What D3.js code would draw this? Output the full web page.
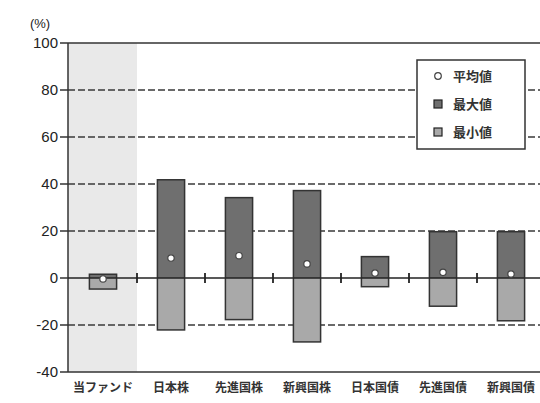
<!DOCTYPE html>
<html>
<head>
<meta charset="utf-8">
<script src="https://cdn.jsdelivr.net/npm/d3@7"></script>
<style>
body{margin:0;background:#fff;}
text{font-family:"Liberation Sans","Noto Sans CJK JP",sans-serif;}
</style>
</head>
<body>
<div id="chart"></div>
<script>
var categories = ["当ファンド","日本株","先進国株","新興国株","日本国債","先進国債","新興国債"];
var avgValues = [-0.4, 8.5, 9.5, 6.0, 2.1, 2.4, 1.7];
var maxValues = [1.6, 41.8, 34.2, 37.2, 9.1, 19.7, 19.7];
var minValues = [-4.7, -22.1, -17.7, -27.2, -3.7, -12.0, -18.2];
var yTicks = [100, 80, 60, 40, 20, 0, -20, -40];
var legendLabels = ["平均値","最大値","最小値"];

var w = 540, h = 403;
var plotLeft = 68, plotTop = 43, plotBottom = 372, step = 68;

var svg = d3.select("#chart").append("svg")
    .attr("width", w).attr("height", h);

var x = d3.scaleBand().domain(categories).range([plotLeft + 1, plotLeft + 1 + 7 * step]).paddingInner(0.6).paddingOuter(0.3);
var y = d3.scaleLinear().domain([-40, 100]).range([plotBottom, plotTop]);

// shaded area for the fund
svg.append("rect")
    .attr("x", plotLeft).attr("y", plotTop)
    .attr("width", step + 1).attr("height", plotBottom - plotTop)
    .attr("fill", "#e9e9e9");

// dashed grid
svg.selectAll(".grid")
    .data(yTicks.filter(function(d){ return d != 0 && d != 100 && d != -40; }))
  .enter().append("line")
    .attr("x1", plotLeft).attr("x2", w)
    .attr("y1", function(d){ return y(d); })
    .attr("y2", function(d){ return y(d); })
    .attr("stroke", "#3a3a3a").attr("stroke-width", 1.5)
    .attr("stroke-dasharray", "7,3");

// frame lines
[100, -40].forEach(function(v){
  svg.append("line").attr("x1", plotLeft).attr("x2", w)
    .attr("y1", y(v)).attr("y2", y(v))
    .attr("stroke", "#333").attr("stroke-width", 1.5);
});
svg.append("line").attr("x1", plotLeft).attr("x2", plotLeft)
  .attr("y1", plotTop).attr("y2", plotBottom)
  .attr("stroke", "#333").attr("stroke-width", 1.5);

// y ticks + labels
var yt = svg.selectAll(".yt").data(yTicks).enter().append("g")
    .attr("transform", function(d){ return "translate(0," + y(d) + ")"; });
yt.append("line").attr("x1", plotLeft - 8).attr("x2", plotLeft)
    .attr("stroke", "#333").attr("stroke-width", 1.5);
yt.append("text").attr("x", plotLeft - 10).attr("dy", "0.36em")
    .attr("text-anchor", "end").attr("font-size", 15)
    .attr("fill", "#222").text(function(d){ return d; });

svg.append("text").attr("x", 40).attr("y", 28)
    .attr("text-anchor", "middle").attr("font-size", 13)
    .attr("fill", "#222").text("(%)");

// legend box
var lg = svg.append("g");
lg.append("rect").attr("x", 417).attr("y", 60).attr("width", 108).attr("height", 89)
    .attr("fill", "#fff").attr("stroke", "#333").attr("stroke-width", 1.5);

// zero line with category separators
svg.append("line").attr("x1", plotLeft).attr("x2", w)
    .attr("y1", y(0)).attr("y2", y(0))
    .attr("stroke", "#222").attr("stroke-width", 1.5);
svg.selectAll(".sep").data(categories.slice(1)).enter().append("line")
    .attr("x1", function(d){ return x(d) - x.step() * 0.3; })
    .attr("x2", function(d){ return x(d) - x.step() * 0.3; })
    .attr("y1", y(0) - 5).attr("y2", y(0) + 5)
    .attr("stroke", "#222").attr("stroke-width", 1.8);

// bars
var bars = svg.selectAll(".bar").data(categories).enter().append("g");
bars.append("rect")
    .attr("x", function(d){ return x(d); })
    .attr("width", x.bandwidth())
    .attr("y", function(d, i){ return y(maxValues[i]); })
    .attr("height", function(d, i){ return y(0) - y(maxValues[i]); })
    .attr("fill", "#6f6f6f");
bars.append("rect")
    .attr("x", function(d){ return x(d); })
    .attr("width", x.bandwidth())
    .attr("y", y(0))
    .attr("height", function(d, i){ return y(minValues[i]) - y(0); })
    .attr("fill", "#a9a9a9");
bars.append("rect")
    .attr("x", function(d){ return x(d); })
    .attr("width", x.bandwidth())
    .attr("y", function(d, i){ return y(maxValues[i]); })
    .attr("height", function(d, i){ return y(minValues[i]) - y(maxValues[i]); })
    .attr("fill", "none").attr("stroke", "#333").attr("stroke-width", 1.5);
bars.append("line")
    .attr("x1", function(d){ return x(d); })
    .attr("x2", function(d){ return x(d) + x.bandwidth(); })
    .attr("y1", y(0)).attr("y2", y(0))
    .attr("stroke", "#222").attr("stroke-width", 1.5);
bars.append("circle")
    .attr("cx", function(d){ return x(d) + x.bandwidth() / 2; })
    .attr("cy", function(d, i){ return y(avgValues[i]); })
    .attr("r", 3.2)
    .attr("fill", "#fff").attr("stroke", "#444").attr("stroke-width", 1.2);

// x labels
svg.selectAll(".xl").data(categories).enter().append("text")
    .attr("x", function(d){ return x(d) + x.bandwidth() / 2; })
    .attr("y", 392)
    .attr("text-anchor", "middle").attr("font-size", 12).attr("font-weight", "bold")
    .attr("fill", "#333").text(function(d){ return d; });

// legend entries
var li = lg.selectAll(".li").data(legendLabels).enter().append("g")
    .attr("transform", function(d, i){ return "translate(438," + (76 + i * 28) + ")"; });
li.filter(function(d, i){ return i == 0; }).append("circle")
    .attr("r", 3.3).attr("fill", "#fff").attr("stroke", "#444").attr("stroke-width", 1.2);
li.filter(function(d, i){ return i > 0; }).append("rect")
    .attr("x", -4).attr("y", -4).attr("width", 8).attr("height", 8)
    .attr("fill", function(d, i){ return i == 0 ? "#6f6f6f" : "#a9a9a9"; })
    .attr("stroke", "#222").attr("stroke-width", 1.2);
li.append("text").attr("x", 15).attr("dy", "0.38em")
    .attr("font-size", 13).attr("font-weight", "bold").attr("fill", "#333")
    .text(function(d){ return d; });
</script>
</body>
</html>
